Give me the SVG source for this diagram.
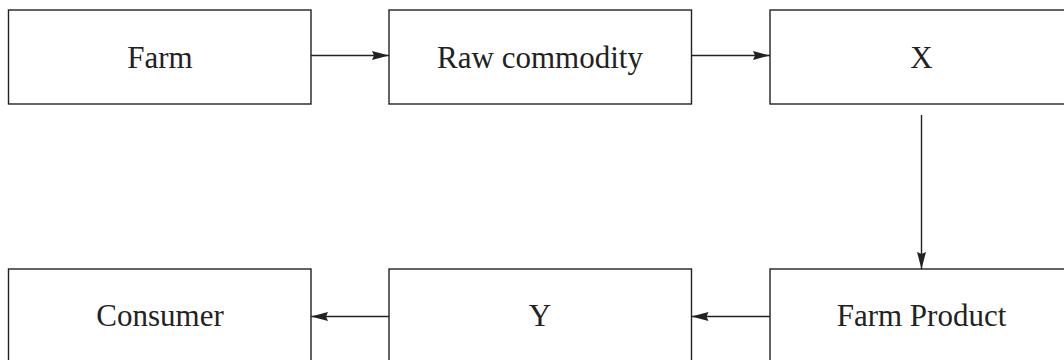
<svg xmlns="http://www.w3.org/2000/svg" width="1064" height="360" viewBox="0 0 1064 360">
<style>
.box{fill:#fff;stroke:#222;stroke-width:1.4}
.lbl{font-family:"Liberation Serif","Times New Roman",serif;font-size:31px;fill:#222;text-anchor:middle}
.con{stroke:#222;stroke-width:1.4;fill:none}
</style>
<defs>
<marker id="ah" markerWidth="18" markerHeight="10" refX="17" refY="5" orient="auto" markerUnits="userSpaceOnUse">
<path d="M0,0.5 L17,5 L0,9.5 L2,5 Z" fill="#222"/>
</marker>
</defs>
<rect width="1064" height="360" fill="#fff"/>
<g id="farm"><rect class="box" x="8.5" y="10" width="302.5" height="94"/><text class="lbl" x="160" y="68">Farm</text></g>
<g id="raw"><rect class="box" x="389" y="10" width="302.5" height="94"/><text class="lbl" x="540" y="68">Raw commodity</text></g>
<g id="x"><rect class="box" x="770" y="10" width="303" height="94"/><text class="lbl" x="921.5" y="68">X</text></g>
<g id="product"><rect class="box" x="770" y="269" width="303" height="94"/><text class="lbl" x="921.5" y="326">Farm Product</text></g>
<g id="y"><rect class="box" x="389" y="269" width="302.5" height="94"/><text class="lbl" x="540" y="326">Y</text></g>
<g id="consumer"><rect class="box" x="8.5" y="269" width="302.5" height="94"/><text class="lbl" x="160" y="326">Consumer</text></g>
<g id="connectors">
<line class="con" x1="311" y1="55.5" x2="389" y2="55.5" marker-end="url(#ah)"/>
<line class="con" x1="691.5" y1="55.5" x2="770" y2="55.5" marker-end="url(#ah)"/>
<line class="con" x1="921.5" y1="115" x2="921.5" y2="269" marker-end="url(#ah)"/>
<line class="con" x1="770" y1="316.5" x2="691.5" y2="316.5" marker-end="url(#ah)"/>
<line class="con" x1="389" y1="316.5" x2="311" y2="316.5" marker-end="url(#ah)"/>
</g>
</svg>
